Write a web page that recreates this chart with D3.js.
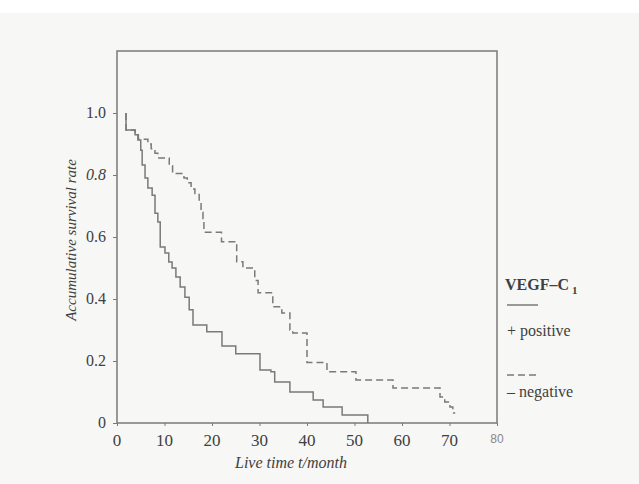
<!DOCTYPE html>
<html>
<head>
<meta charset="utf-8">
<script src="https://cdn.jsdelivr.net/npm/d3@7"></script>
<style>
  body { margin: 0; background: #f7f7f5; }
  svg { display: block; }
</style>
</head>
<body>
<svg id="viz" width="639" height="484"></svg>
<script>
// step times (months) and survival after each step
var positiveTimes = [1.9, 1.9, 3.8, 4.4, 5.0, 5.3, 5.9, 6.5, 7.4, 8.0, 8.6, 9.1, 10.1, 10.9, 11.6, 12.4, 13.3, 14.3, 15.2, 16.0, 18.9, 22.1, 25.0, 30.1, 32.4, 33.2, 36.4, 41.3, 43.4, 47.4, 52.8]
var positiveSurv  = [1.0, 0.945, 0.93, 0.913, 0.88, 0.832, 0.79, 0.758, 0.735, 0.677, 0.648, 0.568, 0.548, 0.519, 0.5, 0.471, 0.439, 0.406, 0.365, 0.316, 0.294, 0.248, 0.223, 0.171, 0.165, 0.132, 0.1, 0.074, 0.052, 0.026, 0]

var negativeTimes = [1.9, 1.9, 3.8, 4.5, 6.5, 7.2, 8.0, 8.6, 11.0, 11.7, 14.1, 14.8, 15.6, 16.4, 17.3, 17.7, 18.1, 18.3, 22.0, 25.2, 26.5, 29.0, 29.7, 32.8, 34.7, 36.4, 37.0, 40.0, 44.2, 50.3, 58.1, 68.0, 69.0, 70.1, 70.7, 71.2]
var negativeSurv  = [1.0, 0.945, 0.93, 0.915, 0.9, 0.885, 0.87, 0.855, 0.83, 0.805, 0.79, 0.775, 0.755, 0.74, 0.71, 0.68, 0.66, 0.615, 0.585, 0.52, 0.5, 0.46, 0.42, 0.375, 0.355, 0.30, 0.29, 0.195, 0.165, 0.139, 0.113, 0.084, 0.068, 0.052, 0.032, 0.032]

var xTicks = [0, 10, 20, 30, 40, 50, 60, 70, 80]
var yTicks = [0, 0.2, 0.4, 0.6, 0.8, 1.0]
var yTickLabels = ["0", "0.2", "0.4", "0.6", "0.8", "1.0"]

let lineColor = "#7a7a7a"
let textColor = "#404040"
let serif = "'Liberation Serif', 'DejaVu Serif', serif"

let viz = d3.select("#viz")

viz.append("rect")
    .attr("x", 0).attr("y", 0)
    .attr("width", 639).attr("height", 13)
    .style("fill", "#ffffff")

let x = d3.scaleLinear().domain([0, 80]).range([117, 497])
let y = d3.scaleLinear().domain([0, 1]).range([423, 113])

// plot frame
viz.append("rect")
    .attr("x", x(0))
    .attr("y", y(1.2))
    .attr("width", x(80) - x(0))
    .attr("height", y(0) - y(1.2))
    .style("fill", "none")
    .style("stroke", lineColor)
    .style("stroke-width", 1.5)

let xAxis = viz.append("g")
    .attr("transform", `translate(0,${y(0)})`)
    .call(d3.axisBottom(x).tickValues(xTicks).tickSize(3).tickFormat(""))
xAxis.select(".domain").remove()
xAxis.selectAll("line").style("stroke", lineColor)

let yAxis = viz.append("g")
    .attr("transform", `translate(${x(0)},0)`)
    .call(d3.axisLeft(y).tickValues(yTicks).tickSize(4).tickFormat(""))
yAxis.select(".domain").remove()
yAxis.selectAll("line").style("stroke", lineColor)

// tick labels
viz.append("g").selectAll("text")
    .data(xTicks)
    .enter().append("text")
    .attr("x", d => x(d))
    .attr("y", d => d == 80 ? 443 : 446)
    .attr("text-anchor", "middle")
    .style("font-family", d => d == 80 ? "'Liberation Sans', sans-serif" : serif)
    .style("font-size", d => d == 80 ? "12px" : "17px")
    .style("fill", d => d == 80 ? "#888" : textColor)
    .text(d => d)

viz.append("g").selectAll("text")
    .data(yTicks)
    .enter().append("text")
    .attr("x", 106)
    .attr("y", d => y(d) + 5)
    .attr("text-anchor", "end")
    .style("font-family", serif)
    .style("font-size", "16px")
    .style("font-style", (d, i) => yTickLabels[i] == "0.8" ? "italic" : "normal")
    .style("fill", textColor)
    .text((d, i) => yTickLabels[i])

// axis titles
viz.append("text")
    .attr("transform", "translate(76,240) rotate(-90)")
    .attr("text-anchor", "middle")
    .style("font-family", serif)
    .style("font-size", "15px")
    .style("font-style", "italic")
    .style("fill", textColor)
    .text("Accumulative survival rate")

viz.append("text")
    .attr("x", 235)
    .attr("y", 468)
    .style("font-family", serif)
    .style("font-size", "16px")
    .style("font-style", "italic")
    .style("fill", textColor)
    .text("Live time  t/month")

// survival curves
let step = d3.line()
    .x(d => x(d[0]))
    .y(d => y(d[1]))
    .curve(d3.curveStepAfter)

viz.append("path")
    .attr("d", step(d3.zip(positiveTimes, positiveSurv)))
    .style("fill", "none")
    .style("stroke", lineColor)
    .style("stroke-width", 1.5)

viz.append("path")
    .attr("d", step(d3.zip(negativeTimes, negativeSurv)))
    .style("fill", "none")
    .style("stroke", lineColor)
    .style("stroke-width", 1.5)
    .style("stroke-dasharray", "7,4")

// legend
let legend = viz.append("g")
let title = legend.append("text")
    .attr("x", 505)
    .attr("y", 290)
    .style("font-family", serif)
    .style("font-size", "16px")
    .style("font-weight", "bold")
    .style("fill", textColor)
    .text("VEGF–C")
title.append("tspan")
    .attr("dx", 3)
    .attr("dy", 4)
    .style("font-size", "11px")
    .text("1")

legend.append("line")
    .attr("x1", 507).attr("x2", 538)
    .attr("y1", 305).attr("y2", 305)
    .style("stroke", lineColor)
    .style("stroke-width", 1.5)

legend.append("text")
    .attr("x", 507).attr("y", 336)
    .style("font-family", serif)
    .style("font-size", "16px")
    .style("fill", textColor)
    .text("+ positive")

legend.append("line")
    .attr("x1", 507).attr("x2", 538)
    .attr("y1", 375).attr("y2", 375)
    .style("stroke", lineColor)
    .style("stroke-width", 1.5)
    .style("stroke-dasharray", "7,4")

legend.append("text")
    .attr("x", 507).attr("y", 397)
    .style("font-family", serif)
    .style("font-size", "16px")
    .style("fill", textColor)
    .text("– negative")
</script>
</body>
</html>
